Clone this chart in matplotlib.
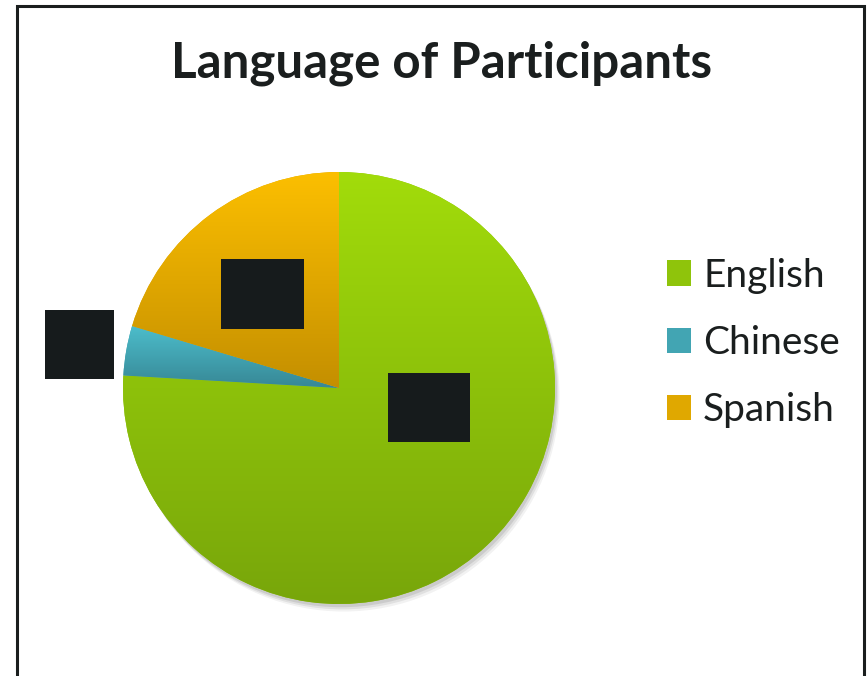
import numpy as np
import matplotlib
matplotlib.use("Agg")
import matplotlib.pyplot as plt
from matplotlib.patches import Rectangle, Patch
from matplotlib.colors import LinearSegmentedColormap

# ---- data ----
categories = ["English", "Chinese", "Spanish"]
counts = [41, 2, 11]
title = "Language of Participants"

# ---- style ----
top_colors = ["#a2dc0b", "#4cbdcb", "#fcbf00"]
bottom_colors = ["#78a60a", "#378795", "#c48f00"]
mid_colors = ["#8fc40b", "#42a5b3", "#e0a800"]
label_pos = [(0.417, -0.09), (-1.201, 0.201), (-0.354, 0.435)]
box_sizes = [(0.38, 0.32), (0.32, 0.32), (0.38, 0.32)]
dark = "#161b1c"

W, H = 867, 676
fig = plt.figure(figsize=(W / 100, H / 100), dpi=100)
fig.patch.set_facecolor("white")

# pie axes: center at (339, 388) px, radius 216 px
R = 216.0
cx, cy = 339.0, H - 388.0
lim = 1.4
side = 2 * lim * R
ax = fig.add_axes([(cx - side / 2) / W, (cy - side / 2) / H, side / W, side / H])
ax.set_xlim(-lim, lim)
ax.set_ylim(-lim, lim)
ax.set_aspect("equal")
ax.axis("off")

# soft shadow
for off, a in [(0.035, 0.05), (0.025, 0.07), (0.015, 0.09)]:
    sh = plt.Circle((off * 0.6, -off), 1.0, color="black", alpha=a, lw=0, zorder=0)
    ax.add_patch(sh)

wedges, _ = ax.pie(counts, startangle=90, counterclock=False, radius=1.0,
                   colors=mid_colors, wedgeprops=dict(linewidth=0))

# vertical gradients clipped to each wedge
for w, ctop, cbot in zip(wedges, top_colors, bottom_colors):
    ext = w.get_path().get_extents(w.get_patch_transform())
    cmap = LinearSegmentedColormap.from_list("g", [cbot, ctop])
    grad = np.linspace(0, 1, 256).reshape(-1, 1)
    im = ax.imshow(grad, cmap=cmap, origin="lower", aspect="auto",
                   extent=[ext.x0, ext.x1, ext.y0, ext.y1], zorder=2)
    im.set_clip_path(w)
ax.set_xlim(-lim, lim)
ax.set_ylim(-lim, lim)

# data labels (hidden behind dark boxes as in the reference)
total = sum(counts)
for (lx, ly), (bw, bh), c in zip(label_pos, box_sizes, counts):
    ax.add_patch(Rectangle((lx - bw / 2, ly - bh / 2), bw, bh,
                           facecolor=dark, edgecolor="none", zorder=5, clip_on=False))
    ax.text(lx, ly, f"{100 * c / total:.0f}%", color=dark, ha="center",
            va="center", fontsize=14, zorder=6)

# title
fig.text(442 / W, 1 - 77 / H, title, ha="center", va="baseline",
         fontsize=35.5, fontweight="bold", family="Lato", color="#1a1e1e")

# legend
handles = [Patch(facecolor=c, edgecolor="none") for c in mid_colors]
leg = fig.legend(handles, categories, loc="upper left",
                 bbox_to_anchor=(667 / W, 1 - 258 / H), frameon=False,
                 prop=dict(family="Lato", size=28), handlelength=0.62,
                 handleheight=0.64, handletextpad=0.31, labelspacing=0.8,
                 borderpad=0, borderaxespad=0)
for t in leg.get_texts():
    t.set_color("#1a1e1e")

# outer frame
fig.add_artist(Rectangle((17 / W, -0.05), (864 - 17) / W, (H - 6) / H + 0.05,
                         transform=fig.transFigure, fill=False,
                         edgecolor="#1a1e1e", linewidth=2.2))

fig.savefig("out.png", dpi=100)
